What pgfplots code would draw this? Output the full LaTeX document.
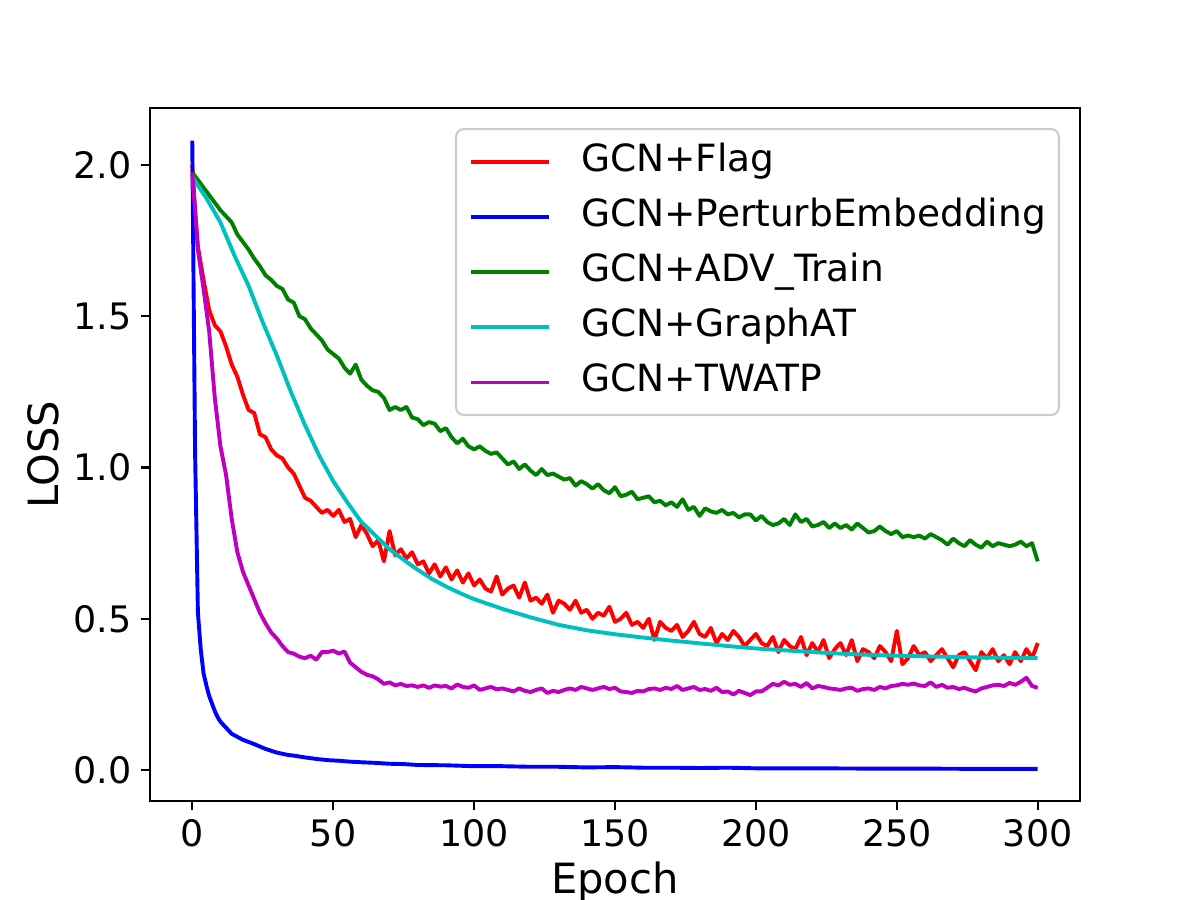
\documentclass[border=0pt]{standalone}
\usepackage{fontspec}
\setmainfont{DejaVu Sans}
\usepackage{pgfplots}
\pgfplotsset{compat=1.18}

\definecolor{cRed}{rgb}{1,0,0}
\definecolor{cBlue}{rgb}{0,0,1}
\definecolor{cGreen}{rgb}{0,0.5,0}
\definecolor{cCyan}{rgb}{0,0.75,0.75}
\definecolor{cMag}{rgb}{0.75,0,0.75}

\begin{document}
\begin{tikzpicture}
% page frame: 460.8pt x 345.6pt, axis box placed inside it
\path[use as bounding box] (-57.6pt,-38.02pt) rectangle (403.2pt,307.58pt);
\begin{axis}[
  at={(0pt,0pt)}, anchor=south west,
  scale only axis, width=357.12pt, height=266.11pt,
  xmin=-15, xmax=315, ymin=-0.102, ymax=2.188,
  axis line style={line width=0.8pt, black},
  tick align=outside, major tick length=3.5pt,
  tick style={line width=0.8pt, black},
  xtick pos=bottom, ytick pos=left,
  xtick={0,50,...,300}, ytick={0,0.5,...,2},
  /pgf/number format/assume math mode=true,
  yticklabel style={/pgf/number format/.cd, fixed, fixed zerofill, precision=1},
  tick label style={font=\fontsize{14}{17}\selectfont},
  xlabel={Epoch}, ylabel={LOSS},
  label style={font=\fontsize{16}{19}\selectfont},
  xlabel style={at={(axis description cs:0.5,-0.134)}, anchor=base},
  ylabel style={at={(axis description cs:-0.115,0.5)}, anchor=center},
  every axis plot/.append style={line width=1.5pt, line join=round},
  legend cell align=left,
  legend image code/.code={\draw[#1] (0pt,0pt) -- (30pt,0pt);},
  legend style={at={(axis description cs:1,1)}, anchor=north east,
    xshift=-7.7pt, yshift=-7.7pt,
    draw=black!20, line width=0.8pt, rounded corners=3pt,
    fill=white, fill opacity=0.8, text opacity=1,
    font=\fontsize{14.4}{17}\selectfont,
    inner xsep=5pt, inner ysep=5.6pt,
    nodes={inner sep=0pt, text height=10.5pt, text depth=3.3pt},
    row sep=7.4pt,
    /tikz/every odd column/.append style={column sep=11.5pt}},
]

% GCN+Flag
\addplot[cRed] coordinates {
(0,2.00) (1,1.85) (2,1.73) (4,1.62) (6,1.52) (8,1.47) (10,1.45) (12,1.40) (14,1.34)
(16,1.30) (18,1.24) (20,1.19) (22,1.18) (24,1.11) (26,1.10) (28,1.06) (30,1.04)
(32,1.03) (34,1.00) (36,0.98) (38,0.94) (40,0.90) (42,0.89) (44,0.87) (46,0.85)
(48,0.86) (50,0.84) (52,0.86) (54,0.82) (56,0.83) (58,0.77) (60,0.81) (62,0.78)
(64,0.74) (66,0.76) (68,0.69) (70,0.79) (72,0.71) (74,0.73) (76,0.70) (78,0.72)
(80,0.68) (82,0.69) (84,0.65) (86,0.68) (88,0.64) (90,0.67) (92,0.63) (94,0.66)
(96,0.62) (98,0.65) (100,0.61) (102,0.63) (104,0.60) (106,0.59) (108,0.64) (110,0.58)
(112,0.60) (114,0.61) (116,0.57) (118,0.62) (120,0.56) (122,0.57) (124,0.55) (126,0.58)
(128,0.52) (130,0.56) (132,0.55) (134,0.53) (136,0.56) (138,0.52) (140,0.53) (142,0.50)
(144,0.52) (146,0.51) (148,0.54) (150,0.49) (152,0.50) (154,0.52) (156,0.48) (158,0.49)
(160,0.47) (162,0.50) (164,0.43) (166,0.49) (168,0.47) (170,0.46) (172,0.48) (174,0.44)
(176,0.46) (178,0.49) (180,0.45) (182,0.44) (184,0.47) (186,0.42) (188,0.45) (190,0.43)
(192,0.46) (194,0.44) (196,0.41) (198,0.43) (200,0.45) (202,0.42) (204,0.41) (206,0.44)
(208,0.39) (210,0.43) (212,0.41) (214,0.40) (216,0.44) (218,0.38) (220,0.42) (222,0.39)
(224,0.43) (226,0.37) (228,0.40) (230,0.42) (232,0.38) (234,0.43) (236,0.36) (238,0.40)
(240,0.39) (242,0.37) (244,0.41) (246,0.39) (248,0.36) (250,0.46) (252,0.35) (254,0.37)
(256,0.41) (258,0.38) (260,0.39) (262,0.36) (264,0.38) (266,0.40) (268,0.37) (270,0.34)
(272,0.38) (274,0.39) (276,0.36) (278,0.33) (280,0.39) (282,0.37) (284,0.40) (286,0.36)
(288,0.38) (290,0.35) (292,0.39) (294,0.36) (296,0.40) (298,0.37) (300,0.42)
};
\addlegendentry{GCN+Flag}

% GCN+PerturbEmbedding
\addplot[cBlue] coordinates {
(0,2.08) (1,1.05) (2,0.52) (3,0.40) (4,0.32) (5,0.28) (6,0.245) (7,0.22) (8,0.195)
(9,0.175) (10,0.16) (12,0.14) (14,0.12) (16,0.11) (18,0.10) (20,0.093) (22,0.086)
(24,0.078) (26,0.07) (28,0.064) (30,0.058) (32,0.054) (34,0.05) (36,0.048) (38,0.045)
(40,0.042) (44,0.037) (48,0.033) (52,0.031) (56,0.028) (60,0.026) (65,0.024) (70,0.021)
(75,0.020) (80,0.017) (90,0.016) (100,0.013) (110,0.013) (120,0.011) (130,0.011)
(140,0.009) (150,0.010) (160,0.008) (170,0.008) (180,0.007) (190,0.008) (200,0.006)
(220,0.006) (240,0.005) (260,0.005) (280,0.004) (300,0.004)
};
\addlegendentry{GCN+PerturbEmbedding}

% GCN+ADV_Train
\addplot[cGreen] coordinates {
(0,1.975) (2,1.95) (4,1.925) (6,1.90) (8,1.875) (10,1.85) (12,1.83) (14,1.81) (16,1.77)
(18,1.745) (20,1.72) (22,1.69) (24,1.665) (26,1.635) (28,1.62) (30,1.60) (32,1.59)
(34,1.555) (36,1.545) (38,1.50) (40,1.49) (42,1.46) (44,1.44) (46,1.42) (48,1.39)
(50,1.375) (52,1.36) (54,1.33) (56,1.31) (58,1.34) (60,1.29) (62,1.27) (64,1.255)
(66,1.25) (68,1.23) (70,1.19) (72,1.20) (74,1.19) (76,1.20) (78,1.165) (80,1.16)
(82,1.14) (84,1.15) (86,1.145) (88,1.12) (90,1.13) (92,1.10) (94,1.08) (96,1.095)
(98,1.07) (100,1.06) (102,1.07) (104,1.055) (106,1.045) (108,1.05) (110,1.03) (112,1.01)
(114,1.02) (116,0.995) (118,1.01) (120,0.99) (122,0.975) (124,0.995) (126,0.975)
(128,0.98) (130,0.97) (132,0.96) (134,0.965) (136,0.94) (138,0.955) (140,0.945)
(142,0.93) (144,0.945) (146,0.925) (148,0.915) (150,0.935) (152,0.905) (154,0.91)
(156,0.92) (158,0.895) (160,0.90) (162,0.905) (164,0.885) (166,0.89) (168,0.875)
(170,0.885) (172,0.87) (174,0.895) (176,0.86) (178,0.87) (180,0.84) (182,0.865)
(184,0.855) (186,0.85) (188,0.86) (190,0.845) (192,0.85) (194,0.835) (196,0.845)
(198,0.845) (200,0.825) (202,0.84) (204,0.82) (206,0.81) (208,0.815) (210,0.83)
(212,0.81) (214,0.845) (216,0.82) (218,0.83) (220,0.805) (222,0.81) (224,0.82)
(226,0.80) (228,0.815) (230,0.80) (232,0.81) (234,0.795) (236,0.815) (238,0.80)
(240,0.785) (242,0.79) (244,0.805) (246,0.79) (248,0.78) (250,0.79) (252,0.77)
(254,0.775) (256,0.77) (258,0.775) (260,0.765) (262,0.78) (264,0.77) (266,0.76)
(268,0.745) (270,0.765) (272,0.75) (274,0.74) (276,0.76) (278,0.745) (280,0.735)
(282,0.755) (284,0.74) (286,0.75) (288,0.745) (290,0.74) (292,0.745) (294,0.755)
(296,0.74) (298,0.75) (300,0.69)
};
\addlegendentry{GCN+ADV\_Train}

% GCN+GraphAT
\addplot[cCyan] coordinates {
(0,1.96) (5,1.89) (10,1.81) (15,1.70) (20,1.60) (25,1.48) (30,1.37) (35,1.25)
(40,1.14) (45,1.04) (50,0.955) (55,0.885) (60,0.82) (65,0.775) (70,0.73) (75,0.695)
(80,0.662) (85,0.632) (90,0.607) (95,0.585) (100,0.565) (110,0.533) (120,0.505)
(130,0.48) (140,0.462) (150,0.449) (160,0.438) (170,0.428) (180,0.419) (190,0.41)
(200,0.402) (210,0.396) (220,0.39) (230,0.385) (240,0.381) (250,0.378) (260,0.376)
(270,0.374) (280,0.372) (290,0.371) (300,0.37)
};
\addlegendentry{GCN+GraphAT}

% GCN+TWATP
\addplot[cMag] coordinates {
(0,1.97) (1,1.85) (2,1.72) (4,1.59) (6,1.45) (8,1.23) (10,1.07) (12,0.975) (14,0.83)
(16,0.72) (18,0.655) (20,0.61) (22,0.565) (24,0.52) (26,0.485) (28,0.455) (30,0.435)
(32,0.41) (34,0.39) (36,0.385) (38,0.375) (40,0.37) (42,0.378) (44,0.365) (46,0.39)
(48,0.39) (50,0.395) (52,0.385) (54,0.392) (56,0.355) (58,0.34) (60,0.325) (62,0.315)
(64,0.31) (66,0.30) (68,0.285) (70,0.29) (72,0.28) (74,0.285) (76,0.278) (78,0.28)
(80,0.275) (82,0.28) (84,0.272) (86,0.28) (88,0.276) (90,0.278) (92,0.27) (94,0.283)
(96,0.275) (98,0.272) (100,0.28) (102,0.265) (104,0.27) (106,0.275) (108,0.267)
(110,0.27) (112,0.265) (114,0.26) (116,0.27) (118,0.262) (120,0.258) (122,0.265)
(124,0.27) (126,0.255) (128,0.262) (130,0.258) (132,0.265) (134,0.27) (136,0.265)
(138,0.275) (140,0.27) (142,0.265) (144,0.27) (146,0.275) (148,0.268) (150,0.272)
(152,0.26) (154,0.258) (156,0.255) (158,0.262) (160,0.26) (162,0.268) (164,0.27)
(166,0.265) (168,0.272) (170,0.268) (172,0.278) (174,0.265) (176,0.27) (178,0.275)
(180,0.265) (182,0.268) (184,0.262) (186,0.272) (188,0.258) (190,0.26) (192,0.25)
(194,0.262) (196,0.255) (198,0.248) (200,0.26) (202,0.26) (204,0.272) (206,0.285)
(208,0.28) (210,0.292) (212,0.282) (214,0.285) (216,0.275) (218,0.288) (220,0.27)
(222,0.278) (224,0.275) (226,0.27) (228,0.268) (230,0.265) (232,0.27) (234,0.272)
(236,0.262) (238,0.268) (240,0.27) (242,0.265) (244,0.275) (246,0.27) (248,0.278)
(250,0.28) (252,0.285) (254,0.282) (256,0.286) (258,0.28) (260,0.278) (262,0.29)
(264,0.275) (266,0.282) (268,0.272) (270,0.275) (272,0.268) (274,0.272) (276,0.265)
(278,0.26) (280,0.27) (282,0.275) (284,0.28) (286,0.282) (288,0.278) (290,0.288)
(292,0.282) (294,0.292) (296,0.305) (298,0.278) (300,0.272)
};
\addlegendentry{GCN+TWATP}

\end{axis}
\end{tikzpicture}
\end{document}
